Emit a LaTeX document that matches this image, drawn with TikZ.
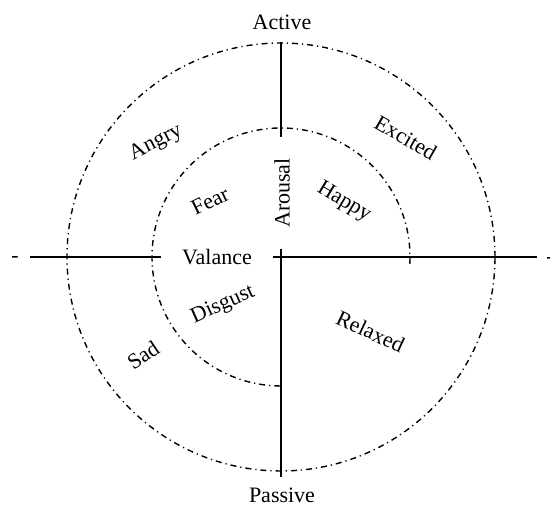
\documentclass[tikz,border=0pt]{standalone}
\usepackage{fontspec}
\setmainfont{Liberation Serif}
\begin{document}
\begin{tikzpicture}[x=1pt,y=1pt,
  axis/.style={line width=2.8pt},
  ring/.style={line width=1.4pt, dash pattern=on 6pt off 4pt on 1.2pt off 4pt},
  lbl/.style={font=\fontsize{22}{26}\selectfont, inner sep=0pt}]
\useasboundingbox (0,0) rectangle (550,505);
% named points
\coordinate (c) at (281,248);
\coordinate (hl1) at (30,248);
\coordinate (hl2) at (161,248);
\coordinate (hr1) at (273,248);
\coordinate (hr2) at (537,248);
\coordinate (vt1) at (281,463.3);
\coordinate (vt2) at (281,368);
\coordinate (vb1) at (281,256);
\coordinate (vb2) at (281,28);
% circles
\draw[ring] (c) circle[radius=214];
\draw[ring] (c) ++(-3:129) arc[start angle=-3, end angle=270, radius=129];
% axes
\draw[axis] (hl1) -- (hl2);
\draw[axis] (hr1) -- (hr2);
\draw[axis] (vt1) -- (vt2);
\draw[axis] (vb1) -- (vb2);
% labels
\node[lbl] (active) at (282,483) {Active};
\node[lbl] (passive) at (282,10) {Passive};
\node[lbl] (valance) at (217,248) {Valance};
\node[lbl, rotate=90] (arousal) at (282,312) {Arousal};
\node[lbl, rotate=27] (angry) at (156,362) {Angry};
\node[lbl, rotate=-30] (excited) at (405.7,367.5) {Excited};
\node[lbl, rotate=26] (fear) at (210,304) {Fear};
\node[lbl, rotate=-31] (happy) at (344,303) {Happy};
\node[lbl, rotate=24] (disgust) at (223,200) {Disgust};
\node[lbl, rotate=34] (sad) at (143,150) {Sad};
\node[lbl, rotate=-25] (relaxed) at (370.5,173.5) {Relaxed};
\node[lbl] (minusl) at (15,245) {-};
\node[lbl] (minusr) at (550,244) {-};
\end{tikzpicture}
\end{document}
